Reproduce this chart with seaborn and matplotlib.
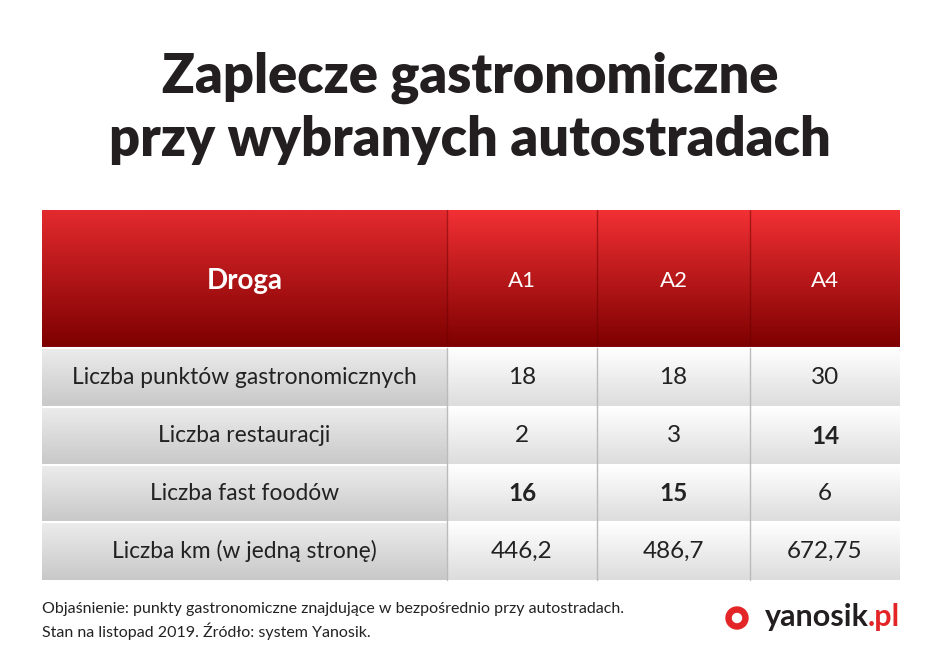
import numpy as np
import matplotlib
matplotlib.use("Agg")
import matplotlib.pyplot as plt
import seaborn as sns
from matplotlib.patches import Circle

sns.set_theme(style="white")
plt.rcParams["font.family"] = "Lato"

title_lines = ["Zaplecze gastronomiczne", "przy wybranych autostradach"]
header_first = "Droga"
roads = ["A1", "A2", "A4"]
row_labels = ["Liczba punktów gastronomicznych", "Liczba restauracji",
              "Liczba fast foodów", "Liczba km (w jedną stronę)"]
values = [["18", "18", "30"], ["2", "3", "14"], ["16", "15", "6"],
          ["446,2", "486,7", "672,75"]]
bold_cells = [[False, False, False], [False, False, True], [True, True, False],
              [False, False, False]]
footer = ["Objaśnienie: punkty gastronomiczne znajdujące w bezpośrednio przy autostradach.",
          "Stan na listopad 2019. Źródło: system Yanosik."]

W, H = 940, 670
fig = plt.figure(figsize=(W/100, H/100), dpi=100)
ax = fig.add_axes([0, 0, 1, 1])
ax.set_xlim(0, W); ax.set_ylim(H, 0); ax.axis("off")

col_edges = [42, 447, 597, 750, 900]
head_top, head_bot = 210, 348
row_edges = [348, 407, 465, 522, 580]

def grad(x0, x1, y0, y1, c_top, c_bot):
    t = np.linspace(0, 1, 100)[:, None]
    c0 = np.array(matplotlib.colors.to_rgb(c_top)); c1 = np.array(matplotlib.colors.to_rgb(c_bot))
    img = (c0 * (1 - t) + c1 * t)[:, None, :].repeat(2, axis=1)
    ax.imshow(img, extent=[x0, x1, y1, y0], aspect="auto", zorder=1)

for i in range(len(col_edges) - 1):
    top = "#e32a2e" if i == 0 else "#f23034"
    grad(col_edges[i], col_edges[i+1], head_top, head_bot, top, "#7d0000")
    txt = header_first if i == 0 else roads[i-1]
    ax.text((col_edges[i]+col_edges[i+1])/2, (head_top+head_bot)/2 + 2, txt,
            color="white", ha="center", va="center",
            fontsize=20 if i == 0 else 16, fontweight="bold" if i == 0 else "normal", zorder=3)
for i in range(1, len(col_edges) - 1):
    ax.plot([col_edges[i]]*2, [head_top, head_bot], color="#6a0000", lw=1, alpha=0.5, zorder=2)

for r, lab in enumerate(row_labels):
    y0, y1 = row_edges[r], row_edges[r+1]
    grad(col_edges[0], col_edges[1], y0, y1, "#ececec", "#c8c8c8")
    ax.text((col_edges[0]+col_edges[1])/2, (y0+y1)/2, lab, ha="center", va="center",
            fontsize=16.4, color="#222222", zorder=3)
    for c in range(3):
        grad(col_edges[c+1], col_edges[c+2], y0, y1, "#ffffff", "#dcdcdc")
        ax.text((col_edges[c+1]+col_edges[c+2])/2, (y0+y1)/2, values[r][c], ha="center",
                va="center", fontsize=17.5, color="#222222",
                fontweight="bold" if bold_cells[r][c] else "normal", zorder=3)
    ax.plot([col_edges[0], col_edges[-1]], [y0, y0], color="white", lw=1.5, zorder=2)
for x in col_edges[1:-1]:
    ax.plot([x, x], [row_edges[0], row_edges[-1]], color="#bbbbbb", lw=1, zorder=2)

ax.text(W/2, 78, title_lines[0], ha="center", va="center", fontsize=39,
        fontweight="heavy", color="#231f20")
ax.text(W/2, 140, title_lines[1], ha="center", va="center", fontsize=39,
        fontweight="heavy", color="#231f20")

ax.text(42, 609, footer[0], ha="left", va="center", fontsize=11.5, color="#222222")
ax.text(42, 631, footer[1], ha="left", va="center", fontsize=11.5, color="#222222")

ax.add_patch(Circle((737, 618), 11, color="#e42528", zorder=3))
ax.add_patch(Circle((737, 618), 4.5, color="white", zorder=4))
pl = ax.text(900, 617, ".pl", ha="right", va="center", fontsize=22, fontweight="bold", color="#e42528")
fig.canvas.draw()
bb = pl.get_window_extent()
ax.text(bb.x0 + 1, 617, "yanosik", ha="right", va="center", fontsize=22, fontweight="bold", color="#231f20")

fig.savefig("out.png", dpi=100)
